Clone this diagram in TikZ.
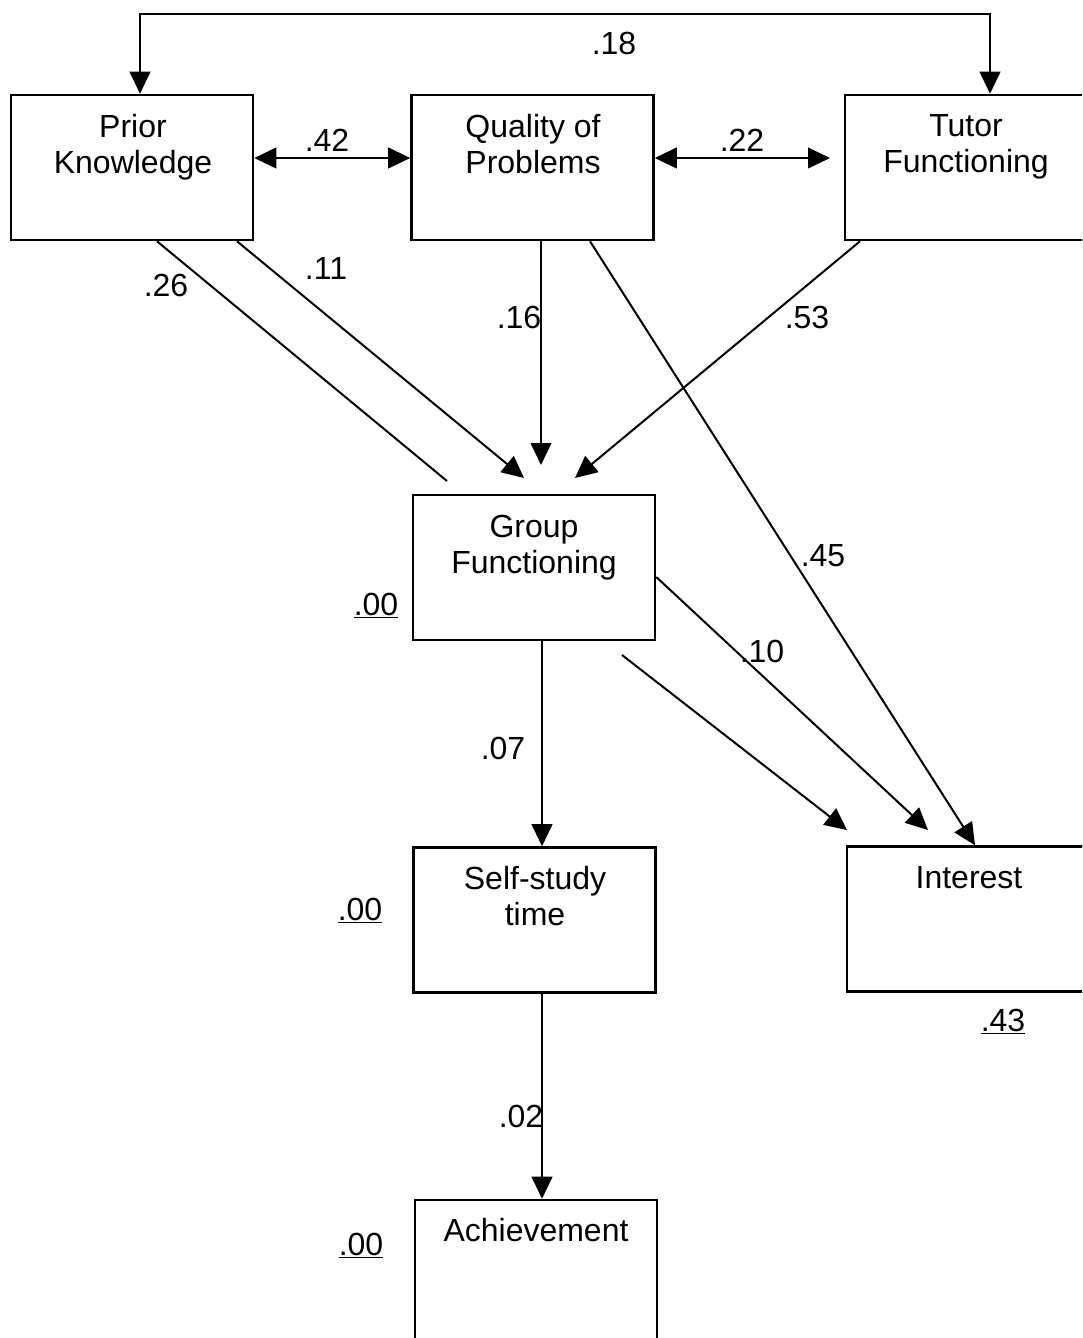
\documentclass[tikz,border=0pt]{standalone}
\usepackage{fontspec}
\setmainfont{Liberation Sans}
\usetikzlibrary{arrows.meta}
\begin{document}
\begin{tikzpicture}[x=0.75pt,y=-0.75pt,
  box/.style={draw,line width=1.9pt,minimum width=181.5pt,minimum height=108.75pt,inner sep=0pt},
  boxtext/.style={anchor=north,inner sep=0pt,align=center,font=\fontsize{24}{27}\selectfont},
  val/.style={inner sep=0pt,font=\fontsize{24}{27}\selectfont},
  uval/.style={inner sep=0pt,anchor=base,font=\fontsize{24}{27}\selectfont},
  conn/.style={line width=1.5pt},
  arr/.style={conn,-{Triangle[length=16.5pt,width=15.5pt]}},
  dbl/.style={conn,{Triangle[length=16.5pt,width=15.5pt]}-{Triangle[length=16.5pt,width=15.5pt]}}]
\useasboundingbox (0,0) rectangle (1082,1338);
\clip (0,0) rectangle (1082,1338);
\fill[white] (0,0) rectangle (1082,1338);

% boxes
\node[box] (pk) at (132,167.5) {};
\node[box] (qp) at (532.5,167.5) {};
\node[box] (tf) at (966,167.5) {};
\node[box] (gf) at (534,567.5) {};
\node[box] (ss) at (534.5,920) {};
\node[box] (in) at (968,919) {};
\node[box] (ac) at (536,1272.5) {};

% box texts
\node[boxtext] (pkt) at (133,114) {Prior\\Knowledge};
\node[boxtext] (qpt) at (533,114) {Quality of\\Problems};
\node[boxtext] (tft) at (966,114) {Tutor\\Functioning};
\node[boxtext] (gft) at (534,515) {Group\\Functioning};
\node[boxtext] (sst) at (535,866) {Self-study\\time};
\node[boxtext] (int) at (969,866) {Interest};
\node[boxtext] (act) at (536,1218) {Achievement};

% helper coordinates
\coordinate (tl) at (140,14);
\coordinate (tr) at (990,14);
\coordinate (e22) at (830,158);
\coordinate (e26) at (447,481);
\coordinate (e11) at (524,478);
\coordinate (e16) at (541,465);
\coordinate (e53) at (575,478);
\coordinate (e10) at (928,830);
\coordinate (s0) at (622,655);
\coordinate (e0) at (847,830);
\coordinate (v1) at (542,700);

% connectors
\draw[dbl] (pk.north -| tl) -- (tl) -- (tr) -- (tf.north -| tr);
\draw[dbl] (pk.east |- 0,158) -- (qp.west |- 0,158);
\draw[dbl] (qp.east |- 0,158) -- (e22);
\draw[conn] (pk.south -| 157,0) -- (e26);
\draw[arr] (pk.south -| 237,0) -- (e11);
\draw[arr] (qp.south -| e16) -- (e16);
\draw[arr] (tf.south -| 860,0) -- (e53);
\draw[arr] (qp.south -| 590,0) -- (in.north -| 975,0);
\draw[arr] (gf.east |- 0,577) -- (e10);
\draw[arr] (s0) -- (e0);
\draw[arr] (gf.south -| v1) -- (ss.north -| v1);
\draw[arr] (ss.south -| v1) -- (ac.north -| v1);

% coefficient labels
\node[val] (l18) at (614,43) {.18};
\node[val] (l42) at (327,140) {.42};
\node[val] (l22) at (742,140) {.22};
\node[val] (l26) at (166,285) {.26};
\node[val] (l11) at (326,268) {.11};
\node[val] (l16) at (519,317) {.16};
\node[val] (l53) at (807,317) {.53};
\node[val] (l45) at (823,556) {.45};
\node[val] (l10) at (762,651) {.10};
\node[val] (l07) at (503,748) {.07};
\node[val] (l02) at (521,1116) {.02};

% explained variance
\node[uval] (r1) at (376,615) {\underline{.00}};
\node[uval] (r2) at (360,920) {\underline{.00}};
\node[uval] (r3) at (361,1255) {\underline{.00}};
\node[uval] (r4) at (1003,1031) {\underline{.43}};
\end{tikzpicture}
\end{document}
